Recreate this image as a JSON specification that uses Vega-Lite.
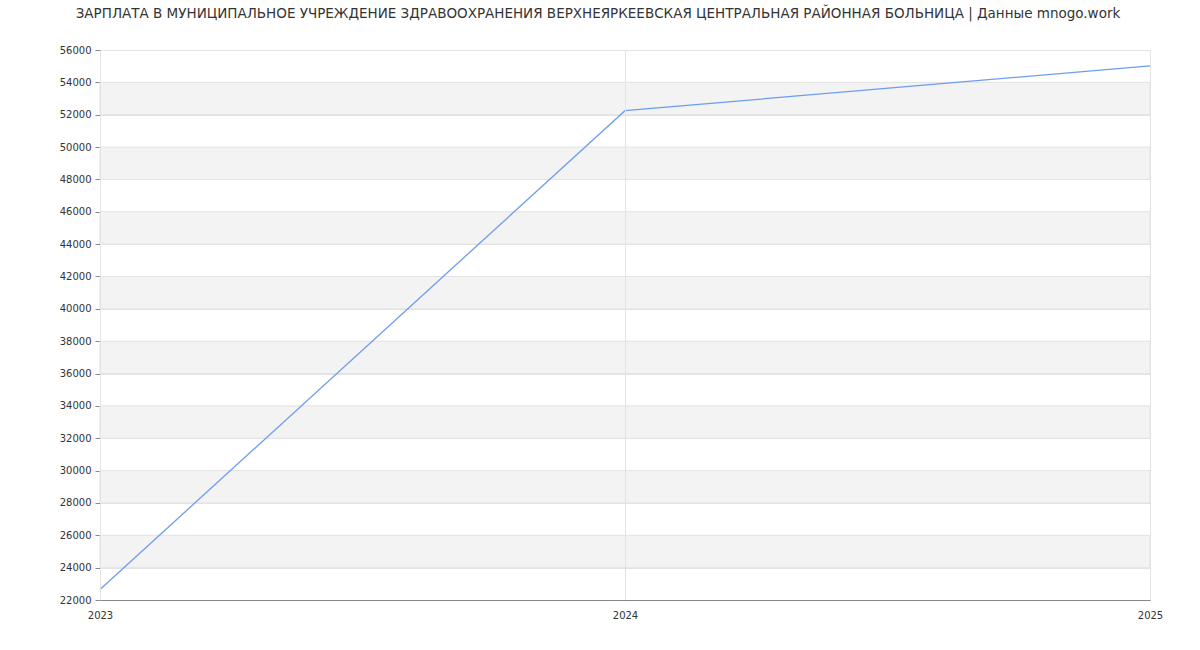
{
  "$schema": "https://vega.github.io/schema/vega-lite/v6.json",
  "width": 1050,
  "height": 550,
  "autosize": {"type": "none"},
  "padding": {"left": 100, "top": 50, "right": 50, "bottom": 50},
  "background": "#ffffff",
  "title": {
    "text": "ЗАРПЛАТА В МУНИЦИПАЛЬНОЕ УЧРЕЖДЕНИЕ ЗДРАВООХРАНЕНИЯ ВЕРХНЕЯРКЕЕВСКАЯ ЦЕНТРАЛЬНАЯ РАЙОННАЯ БОЛЬНИЦА | Данные mnogo.work",
    "font": "DejaVu Sans",
    "fontSize": 13.5,
    "fontWeight": "normal",
    "color": "#333333",
    "anchor": "middle",
    "dx": -27,
    "offset": 25
  },
  "config": {
    "view": {"stroke": "#e0e0e0"},
    "axis": {
      "labelFont": "DejaVu Sans",
      "labelFontSize": 10,
      "labelColor": "#333333",
      "gridColor": "#e3e3e3",
      "domainColor": "#888888",
      "tickColor": "#888888",
      "title": null
    }
  },
  "datasets": {
    "bands": [
      {"lo": 24000, "hi": 26000},
      {"lo": 28000, "hi": 30000},
      {"lo": 32000, "hi": 34000},
      {"lo": 36000, "hi": 38000},
      {"lo": 40000, "hi": 42000},
      {"lo": 44000, "hi": 46000},
      {"lo": 48000, "hi": 50000},
      {"lo": 52000, "hi": 54000}
    ],
    "salary": [
      {"year": "2023", "salary": 22650},
      {"year": "2024", "salary": 52250},
      {"year": "2025", "salary": 55020}
    ]
  },
  "layer": [
    {
      "data": {"name": "bands"},
      "mark": {"type": "rect", "color": "#f3f3f3", "stroke": "#e3e3e3", "strokeWidth": 1},
      "encoding": {
        "y": {
          "field": "lo",
          "type": "quantitative",
          "scale": {"domain": [22000, 56000], "nice": false, "zero": false},
          "axis": {"values": [22000, 24000, 26000, 28000, 30000, 32000, 34000, 36000, 38000, 40000, 42000, 44000, 46000, 48000, 50000, 52000, 54000, 56000], "format": "d", "grid": true, "tickSize": 5, "labelPadding": 4, "labelOverlap": false, "labelBound": false}
        },
        "y2": {"field": "hi"}
      }
    },
    {
      "data": {"name": "salary"},
      "mark": {"type": "line", "color": "#6d9cf0", "strokeWidth": 1.3},
      "encoding": {
        "x": {
          "field": "year",
          "type": "ordinal",
          "scale": {"type": "point", "padding": 0},
          "axis": {"grid": true, "tickSize": 0, "labelPadding": 10, "labelAngle": 0, "labelAlign": "center", "labelFlush": false, "labelOverlap": false, "labelBound": false, "domainColor": "#888888", "zindex": 1}
        },
        "y": {
          "field": "salary",
          "type": "quantitative",
          "axis": {"values": [22000, 24000, 26000, 28000, 30000, 32000, 34000, 36000, 38000, 40000, 42000, 44000, 46000, 48000, 50000, 52000, 54000, 56000], "format": "d", "grid": true, "tickSize": 5, "labelPadding": 4, "labelOverlap": false, "labelBound": false}
        }
      }
    }
  ]
}
